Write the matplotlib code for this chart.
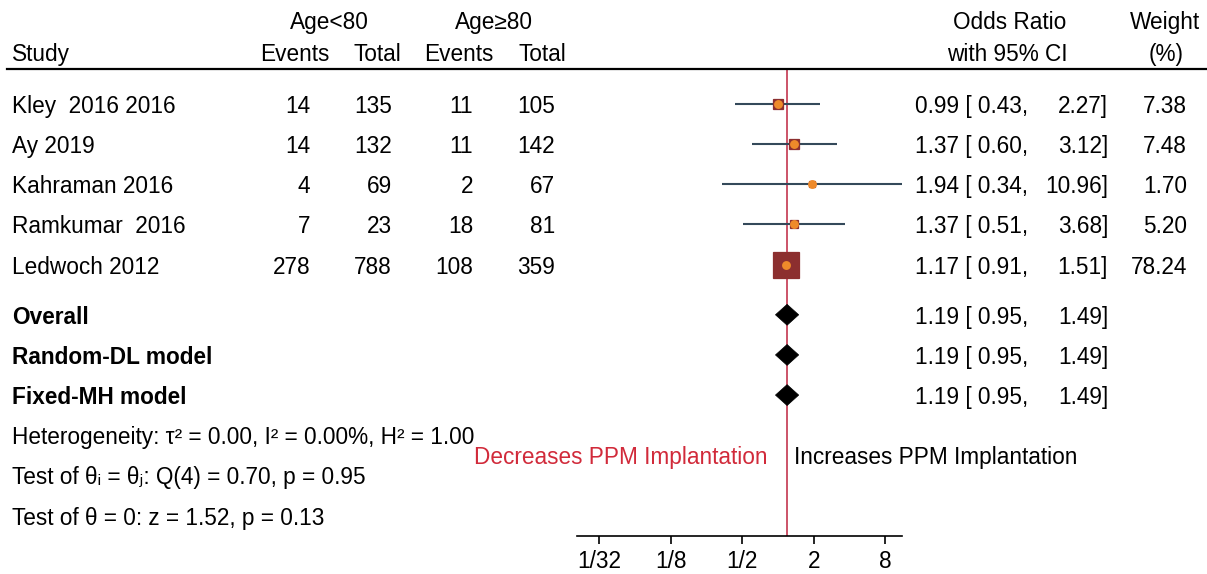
import matplotlib
matplotlib.use("Agg")
import matplotlib.pyplot as plt
import matplotlib.transforms as mtransforms
from matplotlib.lines import Line2D
from matplotlib.patches import Polygon
from matplotlib.ticker import NullLocator
import numpy as np

plt.rcParams['font.family'] = ['Liberation Sans', 'DejaVu Sans']

# ---------------- data ----------------
studies = ["Kley  2016 2016", "Ay 2019", "Kahraman 2016", "Ramkumar  2016", "Ledwoch 2012"]
events_lt80 = [14, 14, 4, 7, 278]
total_lt80 = [135, 132, 69, 23, 788]
events_ge80 = [11, 11, 2, 18, 108]
total_ge80 = [105, 142, 67, 81, 359]
odds_ratio = [0.99, 1.37, 1.94, 1.37, 1.17]
ci_low = [0.43, 0.60, 0.34, 0.51, 0.91]
ci_high = [2.27, 3.12, 10.96, 3.68, 1.51]
weights = [7.38, 7.48, 1.70, 5.20, 78.24]

summary_labels = ["Overall", "Random-DL model", "Fixed-MH model"]
summary_or = [1.19, 1.19, 1.19]
summary_low = [0.95, 0.95, 0.95]
summary_high = [1.49, 1.49, 1.49]

stats_lines = [
    "Heterogeneity: \u03c4\u00b2 = 0.00, I\u00b2 = 0.00%, H\u00b2 = 1.00",
    "Test of \u03b8\u1d62 = \u03b8\u2c7c: Q(4) = 0.70, p = 0.95",
    "Test of \u03b8 = 0: z = 1.52, p = 0.13",
]
tick_values = [1/32, 1/8, 1/2, 2, 8]
tick_labels = ["1/32", "1/8", "1/2", "2", "8"]
left_note = "Decreases PPM Implantation"
right_note = "Increases PPM Implantation"

# ---------------- layout ----------------
W, H = 1207, 574
FS = 16.3
fig = plt.figure(figsize=(W / 100, H / 100), dpi=100)
fig.patch.set_facecolor("white")

ax_left, ax_right, ax_bottom = 576.7, 901.7, 536
ax = fig.add_axes([ax_left / W, (H - ax_bottom) / H, (ax_right - ax_left) / W, ax_bottom / H])
ax.set_xscale('log', base=2)
ax.set_xlim(0.0202, max(ci_high))
row0, row_step = 104, 40.15
ax.set_ylim((ax_bottom - row0) / row_step, (0 - row0) / row_step)
ax.patch.set_alpha(0)

for s in ("top", "left", "right"):
    ax.spines[s].set_visible(False)
ax.spines["bottom"].set_linewidth(1.2)
ax.set_yticks([])
ax.set_xticks(tick_values)
ax.set_xticklabels(tick_labels, fontsize=FS)
ax.xaxis.set_minor_locator(NullLocator())
ax.tick_params(axis='x', length=6, width=1.2, pad=4, direction='out')

blend = mtransforms.blended_transform_factory(fig.transFigure, ax.transData)

def fx(px):
    return px / W

def txt(px, row, s, ha='left', **kw):
    fig.text(fx(px), row, s, ha=ha, va='center_baseline', fontsize=FS,
             transform=blend, **kw)

# header
hdr1, hdr2, hdr_line = -2.09, -1.29, -0.87
txt(329, hdr1, "Age<80", ha='center')
txt(494, hdr1, "Age\u226580", ha='center')
txt(1010, hdr1, "Odds Ratio", ha='center')
txt(1165, hdr1, "Weight", ha='center')
txt(12, hdr2, "Study")
txt(294.5, hdr2, "Events", ha='center')
txt(377, hdr2, "Total", ha='center')
txt(459, hdr2, "Events", ha='center')
txt(542.5, hdr2, "Total", ha='center')
txt(1007, hdr2, "with 95% CI", ha='center')
txt(1166, hdr2, "(%)", ha='center')
fig.add_artist(Line2D([fx(7), 1.0], [hdr_line, hdr_line], transform=blend,
                      color='black', lw=1.6))

# overall reference line
ax.vlines(summary_or[0], hdr_line, ax.get_ylim()[0], color='#c3364f', lw=1.2, zorder=1)

# study rows
ci_color = '#34495a'
box_color = '#8c2f2f'
dot_color = '#ee8a2a'
for i, name in enumerate(studies):
    y = i
    txt(12, y, name)
    txt(310, y, f"{events_lt80[i]}", ha='right')
    txt(392, y, f"{total_lt80[i]}", ha='right')
    txt(473, y, f"{events_ge80[i]}", ha='right')
    txt(555, y, f"{total_ge80[i]}", ha='right')
    txt(915, y, f"{odds_ratio[i]:.2f} [ {ci_low[i]:.2f},")
    txt(1108, y, f"{ci_high[i]:.2f}]", ha='right')
    txt(1187, y, f"{weights[i]:.2f}", ha='right')

    ax.plot([ci_low[i], ci_high[i]], [y, y], color=ci_color, lw=1.5,
            solid_capstyle='butt', zorder=2, clip_on=False)
    side_px = 2.71 * np.sqrt(weights[i]) + 2.0
    ax.plot(odds_ratio[i], y, marker='s', markersize=side_px * 0.72,
            markerfacecolor=box_color, markeredgecolor=box_color,
            markeredgewidth=0.9, zorder=3, clip_on=False)
    ax.plot(odds_ratio[i], y, marker='o', markersize=6.4,
            markerfacecolor=dot_color, markeredgewidth=0, zorder=4, clip_on=False)

# summary rows
for j, lab in enumerate(summary_labels):
    y = 5.25 + j
    txt(12, y, lab, fontweight='bold')
    txt(915, y, f"{summary_or[j]:.2f} [ {summary_low[j]:.2f},")
    txt(1108, y, f"{summary_high[j]:.2f}]", ha='right')
    h = 0.26
    poly = Polygon([(summary_low[j], y), (summary_or[j], y - h),
                    (summary_high[j], y), (summary_or[j], y + h)],
                   closed=True, facecolor='black', edgecolor='black', lw=0.5, zorder=3)
    ax.add_patch(poly)

# statistics
for k, line in enumerate(stats_lines):
    txt(12, 8.25 + k, line)

# direction notes
txt(768, 8.75, left_note, ha='right', color='#d12a3a')
txt(794, 8.75, right_note, ha='left', color='black')

fig.savefig("out.png", dpi=100, facecolor='white')
